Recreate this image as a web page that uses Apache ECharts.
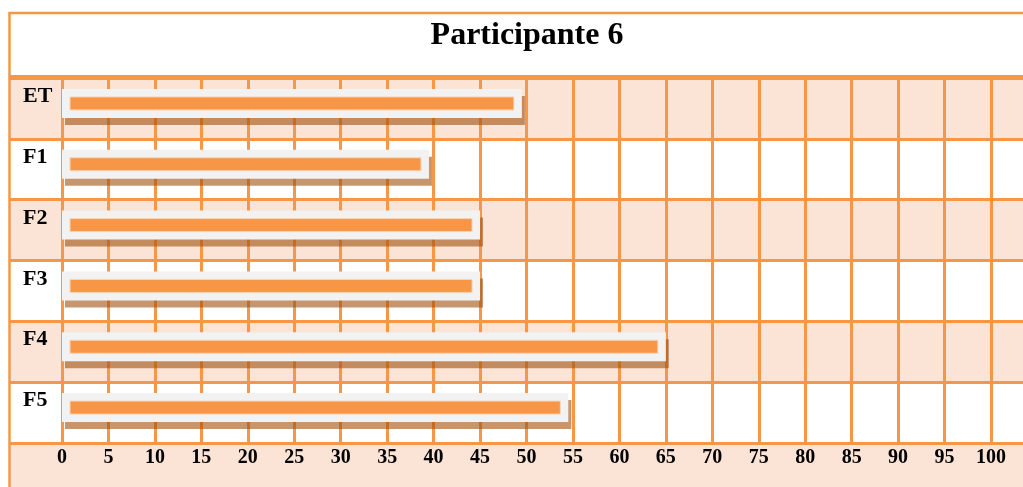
<!DOCTYPE html>
<html>
<head>
<meta charset="utf-8">
<script src="https://cdn.jsdelivr.net/npm/echarts@6/dist/echarts.min.js"></script>
<style>
  html, body { margin: 0; padding: 0; background: #fff; }
  #main { width: 1023px; height: 487px; }
</style>
</head>
<body>
<div id="main"></div>
<script>
// datos del participante
var categorias = ['ET', 'F1', 'F2', 'F3', 'F4', 'F5'];
var valores = [49.5, 39.5, 45, 45, 65, 54.5];
var ticks = [0, 100, 5]; // min, max, intervalo

var naranja = '#F79646';
var durazno = '#FBE4D5';
var fuente = '"Liberation Serif", "Times New Roman", serif';

var chart = echarts.init(document.getElementById('main'));

function renderBarra(params, api) {
  var v = api.value(0);
  var idx = api.value(1);
  var p0 = api.coord([0, idx]);
  var p1 = api.coord([v, idx]);
  var cy = p0[1] - 5;
  var hG = 29, hN = 13;
  return {
    type: 'group',
    children: [
      { // sombra
        type: 'rect',
        shape: { x: p0[0] + 3, y: cy - hG / 2 + 7, width: p1[0] - p0[0], height: hG },
        style: { fill: 'rgba(160,80,15,0.6)' }
      },
      { // caja gris
        type: 'rect',
        shape: { x: p0[0], y: cy - hG / 2, width: p1[0] - p0[0], height: hG },
        style: { fill: '#F2F2F2' }
      },
      { // barra naranja
        type: 'rect',
        shape: { x: p0[0] + 8, y: cy - hN / 2, width: p1[0] - p0[0] - 16, height: hN },
        style: { fill: naranja, stroke: '#FAD3B5', lineWidth: 1 }
      }
    ]
  };
}

var option = {
  backgroundColor: '#fff',
  animation: false,
  title: {
    text: 'Participante 6',
    left: 522,
    top: 15,
    textAlign: 'center',
    textStyle: { fontFamily: fuente, fontWeight: 'bold', fontSize: 32, color: '#000' }
  },
  graphic: [
    { // fila de etiquetas abajo
      type: 'rect', z: 0,
      shape: { x: 9, y: 444, width: 1014, height: 50 },
      style: { fill: durazno }
    },
    { // marco
      type: 'polyline', z: 100,
      shape: { points: [[9.5, 490], [9.5, 13], [1023, 13]] },
      style: { stroke: naranja, lineWidth: 2.5, fill: null }
    },
    {
      type: 'line', z: 100,
      shape: { x1: 9, y1: 77, x2: 1023, y2: 77 },
      style: { stroke: naranja, lineWidth: 4 }
    }
  ],
  grid: [
    { left: 9, right: 0, top: 78, bottom: 44 },
    { left: 62, right: 32, top: 78, bottom: 44 }
  ],
  xAxis: [
    { gridIndex: 0, type: 'value', show: false, min: 0, max: 1 },
    {
      gridIndex: 1, type: 'value',
      min: ticks[0], max: ticks[1], interval: ticks[2],
      axisLine: { show: false },
      axisTick: { show: false },
      splitLine: { show: true, lineStyle: { color: naranja, width: 3 } },
      axisLabel: {
        margin: 5, color: '#000',
        fontFamily: fuente, fontWeight: 'bold', fontSize: 20
      }
    }
  ],
  yAxis: [
    {
      gridIndex: 0, type: 'category', data: categorias, inverse: true,
      axisLine: { show: false },
      axisTick: { show: false },
      splitArea: { show: true, areaStyle: { color: [durazno, '#FFFFFF'] } },
      splitLine: { show: true, lineStyle: { color: naranja, width: 3 } },
      axisLabel: {
        inside: true, margin: 14, align: 'left',
        verticalAlign: 'bottom', lineHeight: 24,
        color: '#000', fontFamily: fuente, fontWeight: 'bold', fontSize: 22
      }
    },
    {
      gridIndex: 1, type: 'category', data: categorias, inverse: true,
      show: false
    }
  ],
  series: [
    {
      type: 'custom',
      xAxisIndex: 1, yAxisIndex: 1,
      z: 10,
      renderItem: renderBarra,
      encode: { x: 0, y: 1 },
      data: valores.map(function (v, i) { return [v, i]; })
    }
  ]
};

chart.setOption(option);
</script>
</body>
</html>
